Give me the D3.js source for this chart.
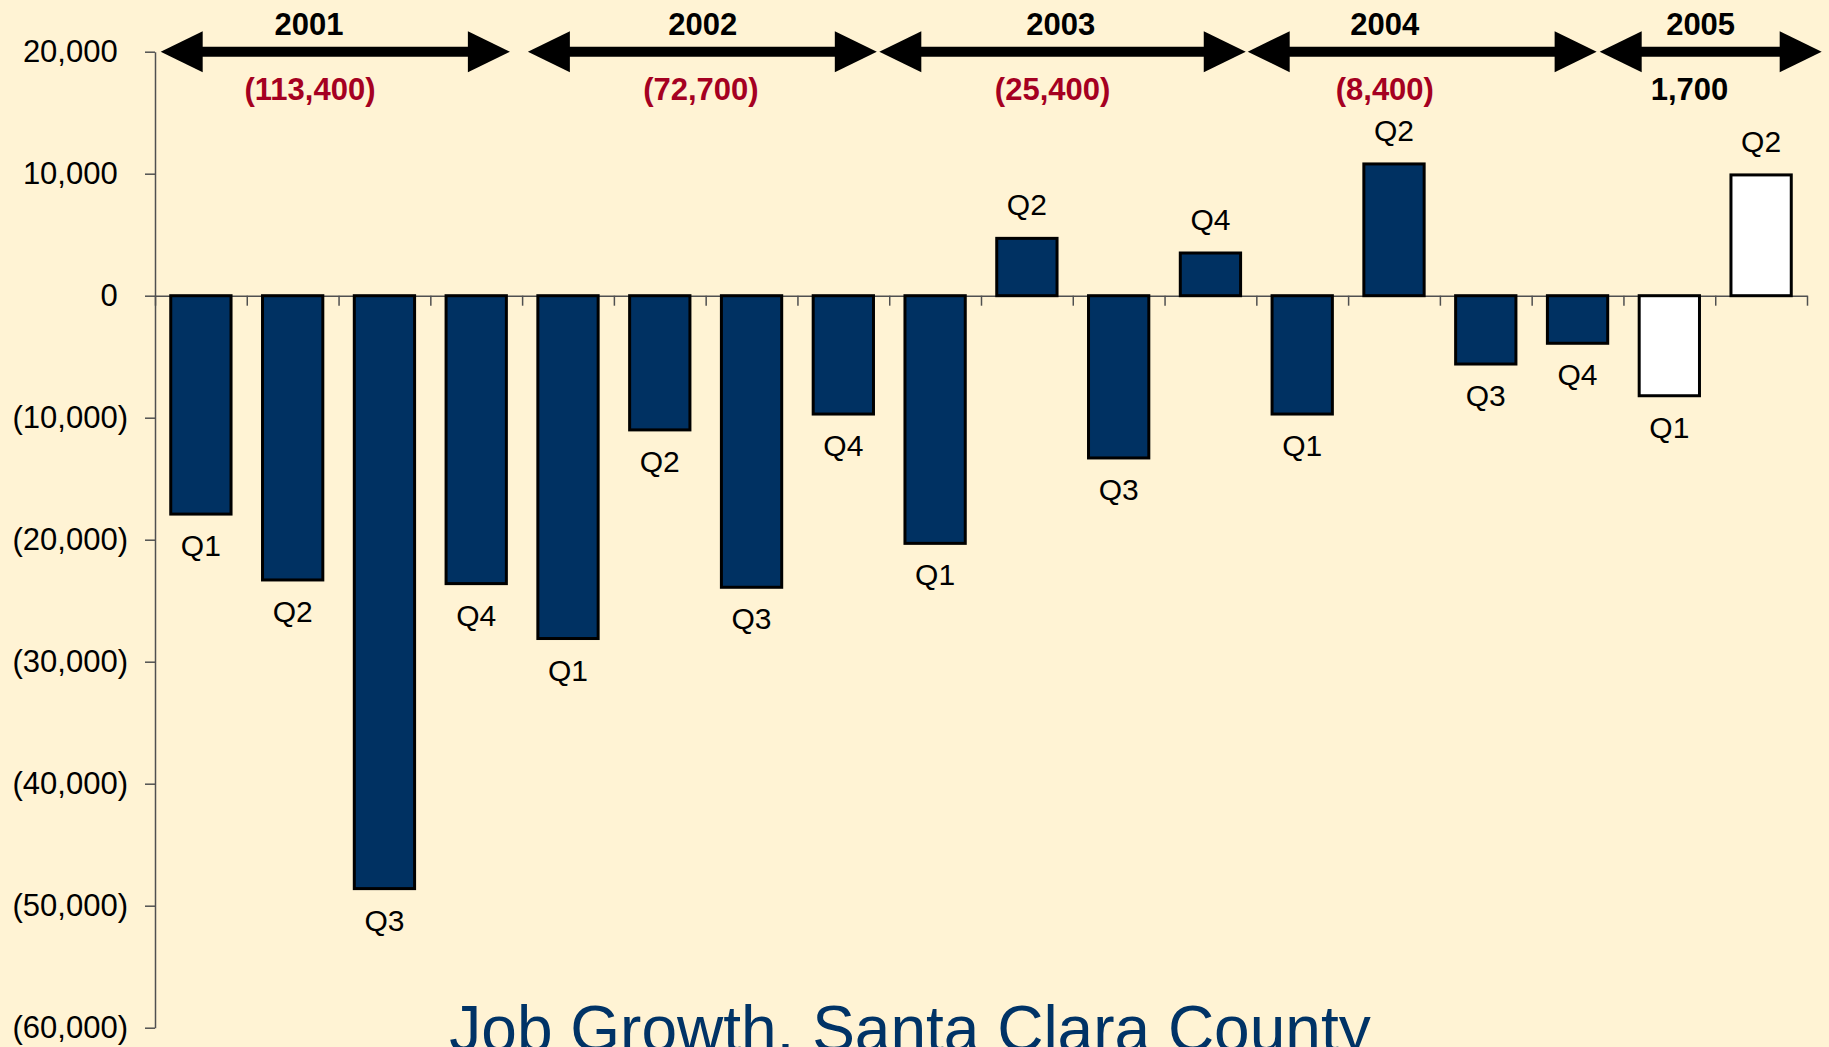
<!DOCTYPE html>
<html>
<head>
<meta charset="utf-8">
<script src="https://cdn.jsdelivr.net/npm/d3@7"></script>
<style>
  body { margin: 0; background: #fff3d4; overflow: hidden; }
  svg { display: block; font-family: "Liberation Sans", Arial, sans-serif; }
</style>
</head>
<body>
<script>
'use strict';

// quarterly job change, Santa Clara County
const quarters = ["Q1", "Q2", "Q3", "Q4", "Q1", "Q2", "Q3", "Q4", "Q1", "Q2", "Q3", "Q4",
                  "Q1", "Q2", "Q3", "Q4", "Q1", "Q2"];
const quarterYears = [2001, 2001, 2001, 2001, 2002, 2002, 2002, 2002, 2003, 2003, 2003, 2003,
                      2004, 2004, 2004, 2004, 2005, 2005];
const jobChange = [-17900, -23300, -48600, -23600, -28100, -11000, -23900, -9700,
                   -20300, 4700, -13300, 3500, -9700, 10800, -5600, -3900, -8200, 9900];
// 2005 quarters are shown as open bars
const isPreliminary = [false, false, false, false, false, false, false, false, false, false,
                       false, false, false, false, false, false, true, true];

const yearNames = ["2001", "2002", "2003", "2004", "2005"];
const yearTotals = [-113400, -72700, -25400, -8400, 1700];

const yTicks = [20000, 10000, 0, -10000, -20000, -30000, -40000, -50000, -60000];

const title = "Job Growth, Santa Clara County";

(function() {

  const W = 1829, H = 1047;
  const plot = {left: 155, right: 1807, top: 51.7, bottom: 1027.7};

  const svg = d3.select("body").append("svg")
    .attr("width", W)
    .attr("height", H);

  const y = d3.scaleLinear()
    .domain([-60000, 20000])
    .range([plot.bottom, plot.top]);

  const x = d3.scaleBand()
    .domain(d3.range(jobChange.length))
    .range([plot.left, plot.right])
    .paddingInner(0.343)
    .paddingOuter(0.1715);

  // category units (0..18) for slot borders and the year annotations
  const slot = d3.scaleLinear()
    .domain([0, jobChange.length])
    .range([plot.left, plot.right]);

  // where the year arrows and their labels sit, in category units
  const arrowSpans = [[0.062, 3.867], [4.063, 7.865], [7.892, 11.885], [11.906, 15.708], [15.741, 18.16]];
  const yearLabelAt = [1.678, 5.969, 9.869, 13.399, 16.841];
  const totalLabelAt = [1.689, 5.948, 9.78, 13.4, 16.72];

  const numFmt = d3.format(",");
  function acct(v) {
    return v < 0 ? "(" + numFmt(-v) + ")" : numFmt(v);
  }

  drawAxes();
  drawBars();
  drawYears();

  svg.append("text")
    .attr("x", 910)
    .attr("y", 1051)
    .attr("text-anchor", "middle")
    .style("font-size", "64px")
    .style("fill", "#003366")
    .text(title);

  function drawAxes() {
    const yAxis = svg.append("g")
      .attr("transform", "translate(" + plot.left + ",0)")
      .call(d3.axisLeft(y)
        .tickValues(yTicks)
        .tickSize(10)
        .tickSizeOuter(0)
        .tickPadding(17)
        .tickFormat(acct));

    yAxis.attr("font-family", null).attr("font-size", null);
    yAxis.selectAll("path, line").attr("stroke", "#505050").attr("stroke-width", 1.5);
    yAxis.selectAll("text")
      .style("font-size", "31px")
      .style("fill", "#000")
      // positive numbers leave room for the ")" like the spreadsheet format
      .attr("dx", (d) => d >= 0 ? -10.3 : 0);

    const xAxis = svg.append("g")
      .attr("transform", "translate(0," + y(0) + ")")
      .call(d3.axisBottom(slot)
        .tickValues(d3.range(jobChange.length + 1))
        .tickSize(10)
        .tickSizeOuter(0)
        .tickFormat(""));

    xAxis.selectAll("path, line").attr("stroke", "#505050").attr("stroke-width", 1.5);
  }

  function drawBars() {
    svg.selectAll(".bar")
      .data(jobChange)
      .enter()
      .append("rect")
      .attr("class", "bar")
      .attr("x", (d, i) => x(i))
      .attr("width", x.bandwidth())
      .attr("y", (d) => y(Math.max(d, 0)))
      .attr("height", (d) => Math.abs(y(d) - y(0)))
      .attr("fill", (d, i) => isPreliminary[i] ? "#ffffff" : "#003162")
      .attr("stroke", "#000")
      .attr("stroke-width", 3);

    svg.selectAll(".qlabel")
      .data(jobChange)
      .enter()
      .append("text")
      .attr("class", "qlabel")
      .attr("x", (d, i) => x(i) + x.bandwidth() / 2)
      .attr("y", (d) => d >= 0 ? y(d) - 23 : y(d) + 42)
      .attr("text-anchor", "middle")
      .style("font-size", "30px")
      .style("fill", "#000")
      .text((d, i) => quarters[i]);
  }

  function drawYears() {
    const lineY = y(20000);
    const headLen = 42, headHalf = 20.5;

    yearNames.forEach(function(name, i) {
      const xa = slot(arrowSpans[i][0]);
      const xb = slot(arrowSpans[i][1]);
      const g = svg.append("g").attr("class", "year-arrow");

      g.append("line")
        .attr("x1", xa + headLen - 2)
        .attr("x2", xb - headLen + 2)
        .attr("y1", lineY)
        .attr("y2", lineY)
        .attr("stroke", "#000")
        .attr("stroke-width", 10);

      g.append("path")
        .attr("d", d3.line()([[xa, lineY], [xa + headLen, lineY - headHalf], [xa + headLen, lineY + headHalf]]) + "Z")
        .attr("fill", "#000");

      g.append("path")
        .attr("d", d3.line()([[xb, lineY], [xb - headLen, lineY - headHalf], [xb - headLen, lineY + headHalf]]) + "Z")
        .attr("fill", "#000");

      svg.append("text")
        .attr("x", slot(yearLabelAt[i]))
        .attr("y", 35)
        .attr("text-anchor", "middle")
        .style("font-size", "31px")
        .style("font-weight", "bold")
        .style("fill", "#000")
        .text(name);

      svg.append("text")
        .attr("x", slot(totalLabelAt[i]))
        .attr("y", 100)
        .attr("text-anchor", "middle")
        .style("font-size", "31px")
        .style("font-weight", "bold")
        .style("fill", yearTotals[i] < 0 ? "#a50021" : "#000")
        .text(acct(yearTotals[i]));
    });
  }
})();
</script>
</body>
</html>
